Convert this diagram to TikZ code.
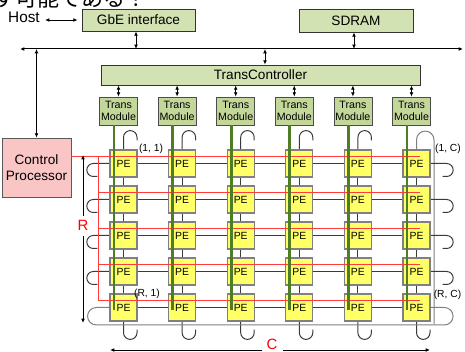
\documentclass[tikz,border=0pt]{standalone}
\usepackage{fontspec}
\setmainfont{Liberation Sans}
\newfontfamily\jpfont{Noto Sans CJK JP}
\usetikzlibrary{arrows.meta,calc}

\definecolor{boxgreen}{HTML}{D3E2B3}
\definecolor{modgreen}{HTML}{C4D79B}
\definecolor{busgreen}{HTML}{4F7D25}
\definecolor{peyellow}{HTML}{FFFF66}
\definecolor{cppink}{HTML}{F9C5C5}
\definecolor{redline}{HTML}{FF3B3B}
\definecolor{wirecol}{HTML}{3A3A3A}
\definecolor{rimcol}{HTML}{808080}

\pgfdeclarelayer{wires}
\pgfsetlayers{wires,main}

\begin{document}
\begin{tikzpicture}[x=0.75pt,y=-0.75pt,
  >={Latex[length=3.2pt,width=2.8pt]},
  topbox/.style={draw=black!80, line width=0.6pt, fill=boxgreen, inner sep=0pt,
    font=\fontsize{10.2}{12.5}\selectfont},
  modbox/.style={draw=black!70, line width=0.6pt, fill=modgreen, inner sep=0pt,
    minimum width=28.5pt, minimum height=21pt, align=center,
    font=\fontsize{8}{9.5}\selectfont},
  pebox/.style={draw=rimcol, line width=1pt, fill=peyellow, inner sep=0pt,
    minimum size=20.25pt, font=\fontsize{7.8}{9}\selectfont},
  cpbox/.style={draw=black!65, line width=0.6pt, fill=cppink, inner sep=0pt,
    minimum width=51.75pt, minimum height=44.25pt, align=center,
    font=\fontsize{10.2}{12.5}\selectfont},
  link/.style={<->, line width=0.6pt},
  wire/.style={draw=wirecol, line width=0.75pt},
  wrapline/.style={draw=rimcol, line width=0.75pt},
  ctrl/.style={draw=redline, line width=0.75pt},
  modbus/.style={draw=busgreen, line width=2pt},
  coordlabel/.style={font=\fontsize{7.7}{9}\selectfont, inner sep=0pt},
  dimlabel/.style={font=\fontsize{11.2}{13}\selectfont, text=red, inner sep=0pt},
]
\useasboundingbox (0,0) rectangle (465,352);
\clip (0,0) rectangle (465,352);

% heading line running off the top edge
\node[font=\jpfont\fontsize{16.5}{18}\selectfont, anchor=base west, inner sep=0pt]
  (heading) at (-7,6.5) {す可能である？};

% host side and shared bus
\node[font=\fontsize{11.5}{13}\selectfont, inner sep=0pt] (host) at (24,17.7) {Host};
\node[topbox, minimum width=84.75pt, minimum height=16.5pt] (gbe) at (138.5,20) {GbE interface};
\node[topbox, minimum width=85.5pt, minimum height=17.25pt] (sdram) at (356,20.5) {SDRAM};
\node[topbox, minimum width=239.25pt, minimum height=15pt] (tc) at (260.5,75) {TransController};
\node[cpbox] (cp) at (36.5,167.5) {Control\\Processor};

\coordinate (busL) at (20,49);
\coordinate (busR) at (463,49);
\coordinate (b-gbe) at (136,49);
\coordinate (b-sdram) at (354,49);
\coordinate (b-tc) at (265,49);
\coordinate (b-cp) at (36.5,49);

\draw[link, shorten <=3.75pt, shorten >=3pt] (host.east |- gbe.west) -- (gbe.west);
\draw[<->, line width=0.75pt] (busL) -- (busR);
\draw[link] (b-gbe |- gbe.south) -- (b-gbe);
\draw[link] (b-sdram |- sdram.south) -- (b-sdram);
\draw[link] (b-tc) -- (b-tc |- tc.north);
\draw[link] (b-cp) -- (cp.north);

% transfer modules
\foreach \j in {1,...,6} {
  \pgfmathsetmacro\px{118.5+58.6*(\j-1)}
  \node[modbox] (mod\j) at (\px,111) {Trans\\Module};
  \draw[link] (tc.south -| mod\j) -- (mod\j.north);
}

% processing element array
\foreach \i in {1,...,5} {
  \foreach \j in {1,...,6} {
    \pgfmathsetmacro\px{123.5+58.6*(\j-1)}
    \pgfmathsetmacro\py{163.5+36*(\i-1)}
    \node[pebox] (pe-\i-\j) at (\px,\py) {PE};
  }
}

\begin{pgfonlayer}{wires}
  % mesh links
  \foreach \j in {1,...,6} {
    \foreach \i/\k in {1/2,2/3,3/4,4/5}
      \draw[wire] (pe-\i-\j) -- (pe-\k-\j);
  }
  \foreach \i in {1,...,5} {
    \foreach \j/\k in {1/2,2/3,3/4,4/5,5/6}
      \draw[wire] (pe-\i-\j) -- (pe-\i-\k);
  }
  % column wrap-around hooks
  \foreach \j in {1,...,5}
    \draw[wire] (pe-1-\j.north) -- ++(0,-12)
      arc[start angle=180, end angle=360, radius=6.75] -- ++(0,3);
  \draw[wrapline] (pe-1-6.north) -- ++(0,-9.5)
      arc[start angle=180, end angle=360, radius=8.75] -- ++(0,184.5);
  \foreach \j in {1,...,6}
    \draw[wire] (pe-5-\j.south) -- ++(0,11)
      arc[start angle=180, end angle=0, radius=6.75] -- ++(0,-3);
  % row wrap-around hooks
  \foreach \i in {1,...,4} {
    \draw[wire] (pe-\i-1.west) -- ++(-16,0)
      arc[start angle=270, end angle=90, radius=6.5] -- ++(4,0);
    \draw[wire] (pe-\i-6.east) -- ++(16,0)
      arc[start angle=-90, end angle=90, radius=6.5] -- ++(-4,0);
  }
  \draw[wrapline] (pe-5-1.west) -- ++(-13,0)
      arc[start angle=270, end angle=90, radius=8.75] -- ++(348,0)
      arc[start angle=90, end angle=-90, radius=8.75] -- (pe-5-6.east);
\end{pgfonlayer}

% control lines from the processor
\coordinate (redtop) at (98,156.5);
\draw[ctrl] (cp.east |- redtop) -- ($(pe-1-6.center)+(3.5,-7)$);
\draw[ctrl] (redtop) -- ($(pe-5-1.center)+(-25.5,-7)$);
\foreach \i in {2,...,5}
  \draw[ctrl] ($(pe-\i-1.center)+(-25.5,-7)$) -- ($(pe-\i-6.center)+(3,-7)$);

% data paths from the transfer modules
\foreach \j in {1,...,6}
  \draw[modbus] ($(mod\j.south)+(-4.5,0)$) -- ($(pe-5-\j.center)+(-9.5,2.5)$);

% corner labels
\node[coordlabel] (l11) at (151,148.5) {(1, 1)};
\node[coordlabel] (l1c) at (448,149) {(1, C)};
\node[coordlabel] (lr1) at (147,293.5) {(R, 1)};
\node[coordlabel] (lrc) at (447.5,294.5) {(R, C)};

% array dimensions
\node[dimlabel] (rlab) at (83,225) {R};
\coordinate (rtop) at (83,155);
\coordinate (rbot) at (83,323);
\draw[->, line width=0.7pt, shorten <=2.5pt] (rlab.north) -- (rtop);
\draw[->, line width=0.7pt, shorten <=4.5pt] (rlab.south) -- (rbot);

\node[dimlabel] (clab) at (272,344.5) {C};
\coordinate (cL) at (110,350);
\coordinate (cR) at (430,350);
\draw[->, line width=0.7pt, shorten <=3pt] (clab.west |- cL) -- (cL);
\draw[->, line width=0.7pt, shorten <=4pt] (clab.east |- cR) -- (cR);
\end{tikzpicture}
\end{document}
